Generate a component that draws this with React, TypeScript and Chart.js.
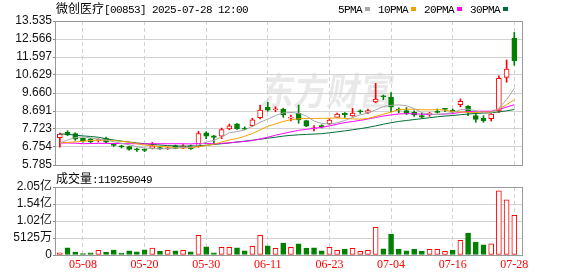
import React, { useEffect, useRef } from 'react';
import { Chart, registerables } from 'chart.js';

Chart.register(...registerables);

// ---------- data ----------
const stockName = '微创医疗';
const stockCode = '[00853]';
const stamp = ' 2025-07-28 12:00';

const dates = [
  '05-02', '05-06', '05-07', '05-08', '05-09', '05-12', '05-13', '05-14', '05-15', '05-16',
  '05-19', '05-20', '05-21', '05-22', '05-23', '05-26', '05-27', '05-28', '05-29', '05-30',
  '06-02', '06-03', '06-04', '06-05', '06-06', '06-09', '06-10', '06-11', '06-12', '06-13',
  '06-16', '06-17', '06-18', '06-19', '06-20', '06-23', '06-24', '06-25', '06-26', '06-27',
  '06-30', '07-02', '07-03', '07-04', '07-07', '07-08', '07-09', '07-10', '07-11', '07-14',
  '07-15', '07-16', '07-17', '07-18', '07-21', '07-22', '07-23', '07-24', '07-25', '07-28',
];

const opens = [
  7.25, 7.54, 7.48, 7.22, 7.19, 7.10, 7.22, 6.90, 6.79, 6.77,
  6.63, 6.60, 6.68, 6.72, 6.66, 6.83, 6.69, 6.83, 6.78, 7.52,
  7.36, 7.33, 7.73, 8.00, 7.75, 7.90, 8.33, 8.90, 8.76, 8.80,
  8.31, 8.57, 8.17, 7.73, 7.87, 7.99, 8.35, 8.57, 8.42, 8.66,
  8.62, 9.18, 9.48, 9.43, 8.76, 8.72, 8.62, 8.44, 8.51, 8.64,
  8.80, 8.74, 9.03, 8.96, 8.44, 8.30, 8.28, 8.69, 10.50, 12.60,
];
const highs = [
  7.50, 7.63, 7.52, 7.25, 7.22, 7.20, 7.29, 6.95, 6.85, 6.80,
  6.70, 6.66, 7.00, 6.78, 6.74, 6.86, 6.88, 6.86, 7.60, 7.58,
  7.38, 7.77, 7.99, 8.02, 7.84, 8.30, 9.01, 9.16, 8.92, 8.84,
  8.47, 9.01, 8.20, 7.90, 7.95, 8.28, 8.58, 8.60, 8.84, 8.75,
  8.80, 10.18, 9.55, 9.68, 8.86, 8.88, 8.70, 8.57, 8.62, 8.80,
  8.84, 8.80, 9.34, 8.98, 8.57, 8.44, 8.57, 10.58, 11.44, 12.92,
];
const lows = [
  6.75, 7.36, 7.11, 7.02, 6.98, 7.02, 6.98, 6.78, 6.70, 6.58,
  6.52, 6.50, 6.65, 6.62, 6.62, 6.66, 6.67, 6.62, 6.74, 7.20,
  6.95, 7.20, 7.68, 7.70, 7.68, 7.86, 8.26, 8.68, 8.65, 8.35,
  8.16, 8.03, 7.85, 7.62, 7.78, 7.95, 8.33, 8.35, 8.40, 8.56,
  8.55, 9.14, 9.30, 8.65, 8.60, 8.50, 8.40, 8.30, 8.40, 8.58,
  8.65, 8.58, 8.91, 8.44, 8.08, 8.08, 8.15, 8.62, 10.24, 11.15,
];
const closes = [
  7.45, 7.40, 7.18, 7.08, 7.03, 7.15, 7.02, 6.84, 6.76, 6.62,
  6.60, 6.57, 6.81, 6.66, 6.70, 6.68, 6.82, 6.65, 7.48, 7.33,
  7.27, 7.69, 7.89, 7.73, 7.72, 8.22, 8.74, 8.73, 8.79, 8.48,
  8.35, 8.21, 7.88, 7.76, 7.85, 8.20, 8.53, 8.50, 8.58, 8.65,
  8.72, 9.33, 9.46, 8.90, 8.74, 8.56, 8.48, 8.36, 8.53, 8.62,
  8.78, 8.64, 9.21, 8.64, 8.24, 8.16, 8.52, 10.45, 10.95, 11.40,
];

const ma5 = [
  6.97, 7.13, 7.26, 7.30, 7.24, 7.18, 7.13, 7.04, 6.95, 6.87,
  6.77, 6.70, 6.67, 6.65, 6.67, 6.70, 6.73, 6.75, 6.87, 7.01,
  7.11, 7.29, 7.52, 7.58, 7.67, 7.87, 8.08, 8.26, 8.45, 8.59,
  8.61, 8.57, 8.42, 8.15, 8.02, 7.99, 8.05, 8.18, 8.34, 8.48,
  8.59, 8.75, 8.93, 9.00, 9.02, 8.98, 8.82, 8.60, 8.52, 8.50,
  8.55, 8.61, 8.76, 8.79, 8.71, 8.59, 8.57, 8.85, 9.30, 9.90,
];
const ma10 = [
  6.98, 7.00, 7.03, 7.06, 7.10, 7.12, 7.12, 7.10, 7.06, 7.02,
  6.93, 6.86, 6.82, 6.78, 6.76, 6.72, 6.70, 6.71, 6.77, 6.83,
  6.90, 7.02, 7.13, 7.21, 7.33, 7.48, 7.67, 7.87, 8.00, 8.13,
  8.22, 8.27, 8.29, 8.29, 8.30, 8.30, 8.32, 8.29, 8.27, 8.25,
  8.29, 8.40, 8.52, 8.63, 8.76, 8.79, 8.78, 8.76, 8.75, 8.77,
  8.74, 8.66, 8.64, 8.62, 8.61, 8.63, 8.63, 8.80, 9.03, 9.30,
];
const ma20 = [
  6.97, 6.97, 6.96, 6.93, 6.94, 6.95, 6.95, 6.94, 6.94, 6.93,
  6.93, 6.92, 6.93, 6.93, 6.93, 6.93, 6.93, 6.92, 6.94, 6.94,
  6.93, 6.95, 6.98, 7.02, 7.05, 7.10, 7.19, 7.28, 7.39, 7.48,
  7.57, 7.65, 7.70, 7.76, 7.81, 7.89, 7.98, 8.07, 8.12, 8.19,
  8.26, 8.34, 8.42, 8.48, 8.53, 8.55, 8.54, 8.52, 8.50, 8.51,
  8.53, 8.55, 8.62, 8.66, 8.68, 8.68, 8.68, 8.78, 8.90, 9.03,
];
const ma30 = [
  7.46, 7.44, 7.39, 7.35, 7.32, 7.28, 7.20, 7.13, 7.07, 7.02,
  6.97, 6.93, 6.89, 6.86, 6.83, 6.81, 6.80, 6.80, 6.82, 6.85,
  6.89, 6.93, 6.97, 7.02, 7.07, 7.12, 7.17, 7.23, 7.28, 7.34,
  7.38, 7.41, 7.43, 7.45, 7.47, 7.52, 7.57, 7.62, 7.68, 7.74,
  7.81, 7.89, 7.98, 8.06, 8.13, 8.18, 8.23, 8.28, 8.33, 8.38,
  8.42, 8.45, 8.49, 8.53, 8.56, 8.58, 8.60, 8.64, 8.70, 8.77,
];

const volumes = [
  6200000, 21500000, 9100000, 4200000, 6300000, 14200000, 9000000, 15100000, 6100000, 12300000,
  9200000, 15300000, 21200000, 12100000, 14300000, 12200000, 14100000, 9300000, 59200000, 24400000,
  6400000, 23100000, 23300000, 21400000, 12200000, 26300000, 59500000, 27400000, 20200000, 36100000,
  23200000, 33300000, 21100000, 21300000, 12400000, 23200000, 14100000, 18200000, 20300000, 11200000,
  14200000, 83400000, 18300000, 63200000, 18100000, 12300000, 18200000, 12100000, 17200000, 17300000,
  11300000, 15200000, 44300000, 66400000, 39200000, 30300000, 33400000, 193200000, 166100000, 119259049,
];
const volumeUp = [
  1, 0, 0, 0, 0, 1, 0, 0, 0, 0,
  0, 0, 1, 0, 1, 0, 1, 0, 1, 0,
  0, 1, 1, 0, 0, 1, 1, 0, 1, 0,
  1, 0, 0, 0, 0, 1, 1, 0, 1, 1,
  1, 1, 0, 0, 0, 0, 0, 0, 1, 1,
  1, 0, 1, 0, 0, 0, 1, 1, 1, 1,
];

const priceTickLabels = ['5.785', '6.754', '7.723', '8.691', '9.660', '10.629', '11.597', '12.566', '13.535'];
const volumeTicks = [0, 51250000, 102500000, 153750000, 205000000];
const volumeTickLabels = ['0', '5125万', '1.02亿', '1.54亿', '2.05亿'];
const dateTickLabels = ['05-08', '05-20', '05-30', '06-11', '06-23', '07-04', '07-16', '07-28'];

const maLabels = ['5PMA', '10PMA', '20PMA', '30PMA'];
const maColors = ['#a6a6a6', '#f5a200', '#ff00ff', '#006f35'];
const volumeLabel = '成交量';

// ---------- style ----------
const RED = '#ff0000';
const GREEN = '#008000';
const GRID = '#d2d2d2';
const FRAME = '#999999';
const W = 578;
const H = 276;
const axisFont = { family: '"Liberation Sans", "Noto Sans CJK SC", sans-serif', size: 12 };
const monoStyle: React.CSSProperties = {
  fontFamily: '"Liberation Mono", monospace',
  fontSize: 11,
  letterSpacing: '-0.6px',
};
const cjkStyle: React.CSSProperties = {
  fontFamily: '"Noto Sans CJK SC", sans-serif',
  fontSize: 12,
};

const framePlugin = {
  id: 'frame',
  afterDraw(chart: any) {
    const { ctx, chartArea: a } = chart;
    ctx.save();
    ctx.strokeStyle = FRAME;
    ctx.lineWidth = 1;
    ctx.strokeRect(Math.round(a.left) - 0.5, Math.round(a.top) + 0.5,
      Math.round(a.right - a.left) + 1, Math.round(a.bottom - a.top));
    ctx.restore();
  },
};

const watermarkPlugin = {
  id: 'watermark',
  beforeDraw(chart: any) {
    const { ctx } = chart;
    ctx.save();
    ctx.fillStyle = 'rgba(0,0,0,0.085)';
    ctx.font = 'bold 33px "Noto Sans CJK SC"';
    ctx.textBaseline = 'middle';
    ctx.translate(262, 91);
    ctx.transform(1, 0, -0.18, 1.15, 0, 0);
    ctx.fillText('东方财富', 0, 0);
    ctx.restore();
  },
};

export default function App() {
  const mainRef = useRef<HTMLCanvasElement>(null);
  const volRef = useRef<HTMLCanvasElement>(null);

  useEffect(() => {
    const idx = dates.map((_, i) => i);
    const up = idx.map((i) => closes[i] > opens[i]);
    const xTickIdx = dateTickLabels.map((d) => dates.indexOf(d));
    const priceTicks = priceTickLabels.map(Number);

    const xScale = (showLabels: boolean) => ({
      type: 'linear',
      min: -0.5,
      max: dates.length,
      offset: false,
      grid: { color: GRID, drawTicks: false, offset: false, lineWidth: 1 },
      border: { display: false, dash: [4, 3] },
      afterBuildTicks: (s: any) => {
        s.ticks = xTickIdx.map((v) => ({ value: v }));
      },
      afterFit: (s: any) => {
        s.height = showLabels ? 21 : 0;
      },
      ticks: {
        display: showLabels,
        autoSkip: false,
        maxRotation: 0,
        padding: 3,
        color: RED,
        font: { family: '"Liberation Serif", serif', size: 12 },
        callback: (_v: any, i: number) => dateTickLabels[i],
      },
    });

    const yBase = {
      type: 'linear',
      position: 'left',
      afterFit: (s: any) => {
        s.width = 56;
      },
      grid: { color: GRID, tickColor: '#8c8c8c', tickLength: 3, drawTicks: true, lineWidth: 1 },
      border: { display: false },
    };

    const main = new Chart(mainRef.current as HTMLCanvasElement, {
      type: 'bar',
      data: {
        datasets: [
          ...[ma5, ma10, ma20, ma30].map((arr, k) => ({
            type: 'line',
            label: maLabels[k],
            data: idx.map((i) => ({ x: i, y: arr[i] })),
            borderColor: maColors[k],
            borderWidth: 1,
            pointRadius: 0,
            tension: 0,
            order: 0,
          })),
          {
            type: 'bar',
            label: 'body',
            data: idx.map((i) => ({ x: i, y: [opens[i], closes[i]] })),
            backgroundColor: idx.map((i) => (up[i] ? '#ffffff' : GREEN)),
            borderColor: idx.map((i) => (up[i] ? RED : GREEN)),
            borderWidth: 1,
            borderSkipped: false,
            barThickness: 5,
            grouped: false,
            minBarLength: 1,
            order: 1,
          },
          {
            type: 'bar',
            label: 'wick',
            data: idx.map((i) => ({ x: i, y: [lows[i], highs[i]] })),
            backgroundColor: idx.map((i) => (up[i] ? RED : GREEN)),
            borderWidth: 0,
            barThickness: 1,
            grouped: false,
            order: 2,
          },
        ] as any,
      },
      options: {
        animation: false,
        responsive: false,
        devicePixelRatio: 1,
        events: [],
        layout: { padding: { left: 0, right: 56, top: 21, bottom: 111 } },
        plugins: { legend: { display: false }, tooltip: { enabled: false } },
        scales: {
          x: xScale(false) as any,
          y: {
            ...yBase,
            min: priceTicks[0],
            max: priceTicks[priceTicks.length - 1],
            afterBuildTicks: (s: any) => {
              s.ticks = priceTicks.map((v) => ({ value: v }));
            },
            ticks: {
              autoSkip: false,
              padding: 1,
              color: '#111',
              font: axisFont,
              callback: (_v: any, i: number) => priceTickLabels[i],
            },
          } as any,
        },
      },
      plugins: [watermarkPlugin, framePlugin],
    });

    const vol = new Chart(volRef.current as HTMLCanvasElement, {
      type: 'bar',
      data: {
        datasets: [
          {
            label: volumeLabel,
            data: idx.map((i) => ({ x: i, y: volumes[i] })),
            backgroundColor: idx.map((i) => (volumeUp[i] ? '#ffffff' : GREEN)),
            borderColor: idx.map((i) => (volumeUp[i] ? RED : GREEN)),
            borderWidth: 1,
            borderSkipped: false,
            barThickness: 5,
            grouped: false,
          },
        ] as any,
      },
      options: {
        animation: false,
        responsive: false,
        devicePixelRatio: 1,
        events: [],
        layout: { padding: { left: 0, right: 56, top: 187, bottom: 0 } },
        plugins: { legend: { display: false }, tooltip: { enabled: false } },
        scales: {
          x: xScale(true) as any,
          y: {
            ...yBase,
            min: volumeTicks[0],
            max: volumeTicks[volumeTicks.length - 1],
            afterBuildTicks: (s: any) => {
              s.ticks = volumeTicks.map((v) => ({ value: v }));
            },
            ticks: {
              autoSkip: false,
              padding: 1,
              color: '#111',
              font: axisFont,
              callback: (_v: any, i: number) => volumeTickLabels[i],
            },
          } as any,
        },
      },
      plugins: [framePlugin],
    });

    return () => {
      main.destroy();
      vol.destroy();
    };
  }, []);

  const abs: React.CSSProperties = { position: 'absolute', left: 0, top: 0 };

  return (
    <div style={{ position: 'fixed', left: 0, top: 0, width: W, height: H, background: '#fff', overflow: 'hidden' }}>
      <canvas ref={mainRef} width={W} height={H} style={{ ...abs, width: W, height: H }} />
      <canvas ref={volRef} width={W} height={H} style={{ ...abs, width: W, height: H }} />
      <div style={{ position: 'absolute', left: 56, top: 1, lineHeight: '14px', whiteSpace: 'nowrap', color: '#000' }}>
        <span style={cjkStyle}>{stockName}</span>
        <span style={monoStyle}>{stockCode + stamp}</span>
      </div>
      <div style={{ position: 'absolute', left: 338, top: 1, lineHeight: '14px', whiteSpace: 'nowrap', color: '#000' }}>
        {maLabels.map((l, k) => (
          <span key={l}>
            <span style={monoStyle}>{l}</span>
            <span
              style={{
                display: 'inline-block',
                width: 5,
                height: 4,
                background: maColors[k],
                marginLeft: 3,
                marginRight: 8,
                verticalAlign: 'middle',
              }}
            />
          </span>
        ))}
      </div>
      <div style={{ position: 'absolute', left: 56, top: 171, lineHeight: '14px', whiteSpace: 'nowrap', color: '#000' }}>
        <span style={cjkStyle}>{volumeLabel}</span>
        <span style={monoStyle}>{':' + volumes[volumes.length - 1]}</span>
      </div>
    </div>
  );
}
